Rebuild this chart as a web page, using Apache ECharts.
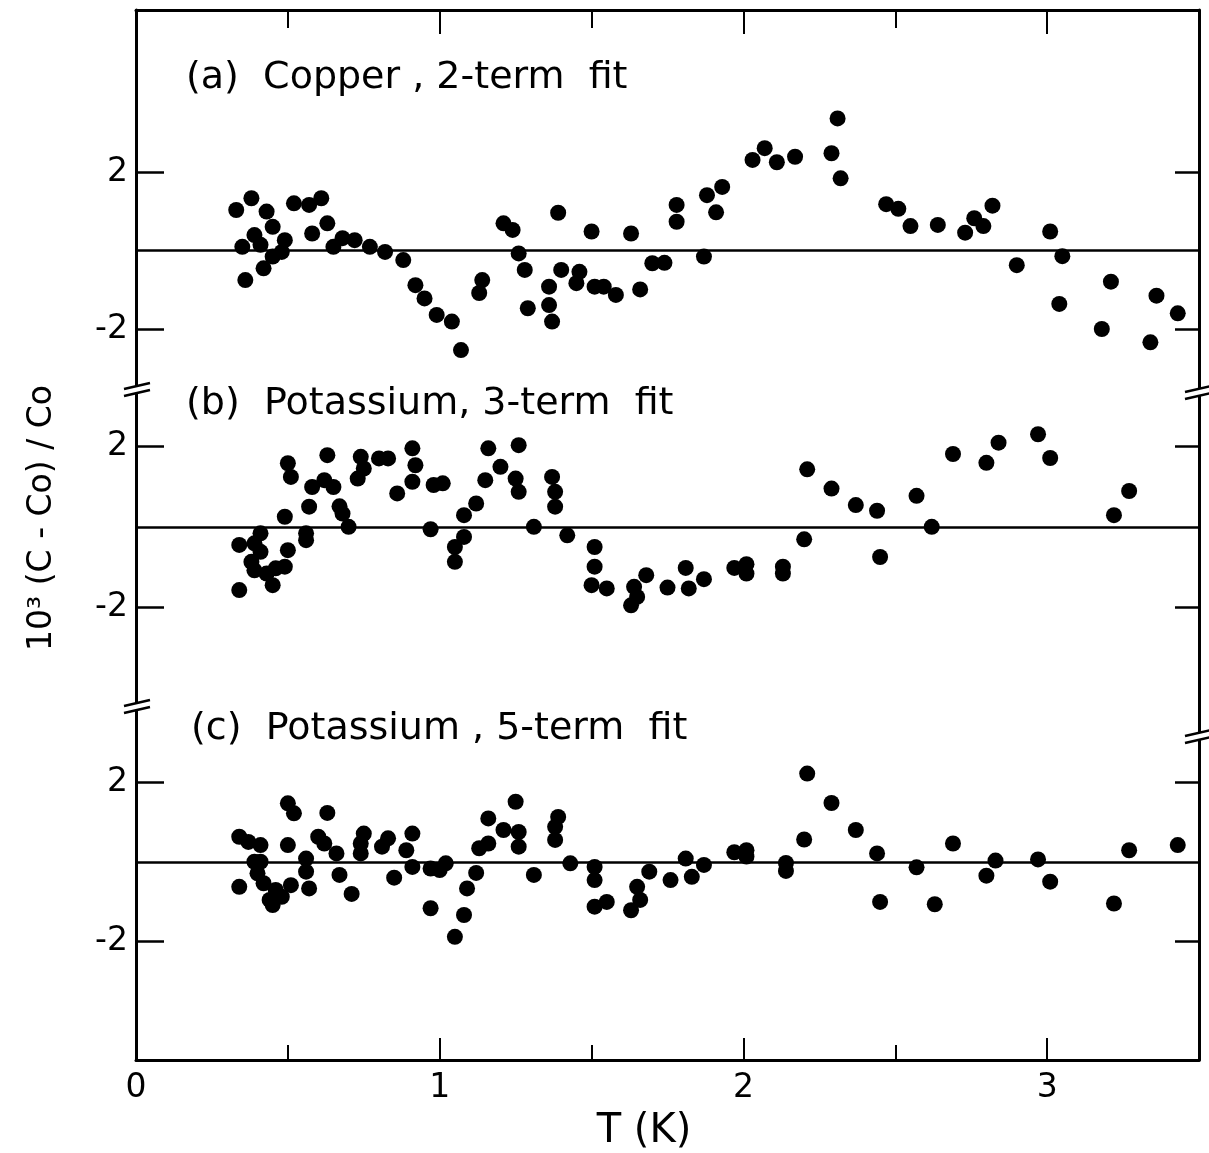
<!DOCTYPE html>
<html>
<head>
<meta charset="utf-8">
<script src="https://cdn.jsdelivr.net/npm/echarts@6/dist/echarts.min.js"></script>
<style>
html,body{margin:0;padding:0;background:#fff;}
#chart{width:1209px;height:1153px;}
</style>
</head>
<body>
<div id="chart"></div>
<script>
// ---- Data (T in K, 10^3 (C-Co)/Co) ----
const tA = [0.33,0.38,0.43,0.45,0.49,0.35,0.39,0.41,0.45,0.48,0.42,0.36,0.52,0.57,0.61,0.63,0.58,0.65,0.68,0.72,0.77,0.82,0.88,0.92,0.95,0.99,1.04,1.07,1.14,1.13,1.21,1.24,1.26,1.28,1.29,1.39,1.40,1.36,1.36,1.37,1.46,1.45,1.50,1.51,1.54,1.58,1.63,1.66,1.70,1.74,1.78,1.78,1.88,1.91,1.93,1.87,2.03,2.07,2.11,2.17,2.29,2.31,2.32,2.47,2.51,2.55,2.64,2.73,2.76,2.79,2.82,3.01,2.90,3.05,3.04,3.21,3.18,3.36,3.34,3.43];
const vA = [1.04,1.34,1.00,0.61,0.27,0.10,0.40,0.15,-0.15,-0.03,-0.45,-0.75,1.21,1.17,1.34,0.70,0.44,0.10,0.32,0.27,0.10,-0.03,-0.24,-0.88,-1.22,-1.64,-1.81,-2.54,-0.75,-1.08,0.70,0.53,-0.07,-0.49,-1.47,0.97,-0.49,-0.92,-1.39,-1.81,-0.54,-0.83,0.49,-0.92,-0.92,-1.13,0.44,-0.99,-0.32,-0.31,1.17,0.74,1.42,0.98,1.63,-0.15,2.32,2.62,2.26,2.40,2.49,3.38,1.85,1.19,1.07,0.63,0.66,0.46,0.83,0.63,1.15,0.49,-0.37,-0.14,-1.36,-0.79,-2.00,-1.15,-2.34,-1.60];

const tB = [0.34,0.34,0.39,0.41,0.41,0.38,0.39,0.43,0.45,0.46,0.49,0.50,0.49,0.50,0.51,0.56,0.56,0.57,0.58,0.62,0.63,0.65,0.67,0.68,0.70,0.73,0.74,0.75,0.80,0.83,0.86,0.91,0.92,0.91,0.98,1.01,0.97,1.08,1.08,1.05,1.05,1.12,1.15,1.16,1.20,1.26,1.25,1.26,1.31,1.37,1.38,1.38,1.42,1.51,1.51,1.50,1.55,1.63,1.64,1.65,1.68,1.75,1.81,1.82,1.87,1.97,2.01,2.01,2.13,2.13,2.20,2.21,2.29,2.37,2.44,2.45,2.57,2.62,2.69,2.80,2.84,2.97,3.01,3.22,3.27];
const vB = [-1.57,-0.45,-0.41,-0.16,-0.62,-0.87,-1.08,-1.16,-1.45,-1.03,-0.99,-0.58,0.25,1.58,1.24,-0.16,-0.33,0.50,0.99,1.16,1.78,0.99,0.51,0.33,0.00,1.20,1.74,1.45,1.70,1.70,0.83,1.95,1.53,1.12,1.04,1.08,-0.06,0.29,-0.25,-0.50,-0.87,0.58,1.16,1.95,1.49,2.03,1.20,0.87,0.00,1.24,0.87,0.50,-0.21,-0.50,-0.99,-1.45,-1.53,-1.95,-1.49,-1.74,-1.20,-1.51,-1.02,-1.53,-1.30,-1.02,-1.16,-0.93,-0.99,-1.16,-0.31,1.43,0.95,0.54,0.40,-0.75,0.77,0.00,1.81,1.59,2.09,2.30,1.71,0.29,0.89];

const tC = [0.34,0.37,0.41,0.39,0.41,0.40,0.34,0.42,0.46,0.44,0.45,0.48,0.51,0.50,0.52,0.50,0.56,0.56,0.57,0.60,0.62,0.63,0.66,0.67,0.71,0.74,0.75,0.74,0.81,0.83,0.85,0.89,0.91,0.91,0.97,1.00,1.02,0.97,1.05,1.08,1.09,1.12,1.13,1.16,1.16,1.21,1.25,1.26,1.26,1.31,1.39,1.38,1.38,1.43,1.51,1.51,1.51,1.55,1.63,1.65,1.66,1.69,1.76,1.81,1.83,1.87,1.97,2.01,2.01,2.14,2.14,2.20,2.21,2.29,2.37,2.44,2.45,2.57,2.63,2.69,2.80,2.83,2.97,3.01,3.22,3.27,3.43];
const vC = [0.63,0.50,0.42,0.00,0.00,-0.29,-0.63,-0.54,-0.71,-0.96,-1.09,-0.88,-0.59,1.47,1.22,0.42,0.08,-0.25,-0.67,0.63,0.46,1.23,0.21,-0.33,-0.81,0.21,0.71,0.46,0.38,0.59,-0.40,0.29,0.71,-0.13,-0.17,-0.21,-0.04,-1.17,-1.89,-1.34,-0.67,-0.28,0.34,1.09,0.46,0.80,1.51,0.75,0.38,-0.33,1.13,0.88,0.55,-0.04,-0.13,-0.46,-1.13,-1.01,-1.22,-0.63,-0.96,-0.25,-0.46,0.08,-0.38,-0.08,0.24,0.29,0.13,-0.03,-0.23,0.56,2.22,1.48,0.80,0.21,-1.01,-0.14,-1.07,0.46,-0.35,0.03,0.06,-0.50,-1.05,0.29,0.42];

const panelTitles = ['(a)  Copper , 2-term  fit', '(b)  Potassium, 3-term  fit', '(c)  Potassium , 5-term  fit'];
const xMajorTicks = [1, 2, 3];
const xMinorTicks = [0.5, 1.5, 2.5];
const xLabels = [0, 1, 2, 3];
const yTicks = [-2, 2];
const xName = 'T (K)';
const yName = '10³ (C - Co) / Co';

// ---- Layout ----
const FONT = 'DejaVu Sans';
const L = 136, R = 10;
const grids = [
  {left: L, right: R, top: 10, height: 382},
  {left: L, right: R, top: 392, height: 320},
  {left: L, right: R, top: 712, height: 348}
];
const yRanges = [[-3.61, 6.15], [-4.60, 3.35], [-4.99, 3.77]];
const titlePos = [[186, 59], [186, 385], [191, 710]];

const zip = (t, v) => t.map((x, i) => [x, v[i]]);
const seriesData = [zip(tA, vA), zip(tB, vB), zip(tC, vC)];

const black = '#000';
function xAx(grid, pos, ticks, len, showLine, labels) {
  return {
    type: 'value', gridIndex: grid, min: 0, max: 3.5, position: pos,
    axisLine: {show: showLine, onZero: false, lineStyle: {color: black, width: 3}},
    axisTick: {show: ticks.length > 0, inside: true, length: len, customValues: ticks, lineStyle: {color: black, width: 2}},
    axisLabel: labels ? {show: true, customValues: labels, color: black, fontSize: 33, fontFamily: FONT, margin: 12} : {show: false},
    splitLine: {show: false}
  };
}
const xAxes = [
  xAx(0, 'top', xMajorTicks, 24, true, null),
  xAx(0, 'top', xMinorTicks, 18, false, null),
  xAx(1, 'bottom', [], 0, false, null),
  xAx(2, 'bottom', xMajorTicks, 22, true, xLabels),
  xAx(2, 'bottom', xMinorTicks, 15, false, null)
];
const yAxes = [];
for (let g = 0; g < 3; g++) {
  yAxes.push({
    type: 'value', gridIndex: g, min: yRanges[g][0], max: yRanges[g][1], position: 'left',
    axisLine: {show: true, onZero: false, lineStyle: {color: black, width: 3}},
    axisTick: {show: true, inside: true, length: 28, customValues: yTicks, lineStyle: {color: black, width: 2.5}},
    axisLabel: {show: true, customValues: yTicks, color: black, fontSize: 33, fontFamily: FONT, margin: 8,
      formatter: v => (v < 0 ? '-' : '') + Math.abs(v)},
    splitLine: {show: false}
  });
  yAxes.push({
    type: 'value', gridIndex: g, min: yRanges[g][0], max: yRanges[g][1], position: 'right',
    axisLine: {show: true, onZero: false, lineStyle: {color: black, width: 3}},
    axisTick: {show: true, inside: true, length: 24, customValues: yTicks, lineStyle: {color: black, width: 2.5}},
    axisLabel: {show: false},
    splitLine: {show: false}
  });
}
const xIdx = [0, 2, 3];
const series = seriesData.map((d, g) => ({
  type: 'scatter', xAxisIndex: xIdx[g], yAxisIndex: g * 2, data: d,
  symbol: 'circle', symbolSize: 16, itemStyle: {color: black, opacity: 1},
  silent: true, animation: false,
  markLine: {silent: true, symbol: 'none', label: {show: false},
    lineStyle: {color: black, width: 2.5, type: 'solid'}, data: [{yAxis: 0}], animation: false}
}));

// break marks on the vertical axes
function brk(xc, yc) {
  const w = 13, s = 3, gap = 7;
  return [
    {type: 'polygon', z: 100, shape: {points: [[xc - w, yc + s], [xc + w, yc - s], [xc + w, yc - s + gap], [xc - w, yc + s + gap]]}, style: {fill: '#fff'}},
    {type: 'line', z: 101, shape: {x1: xc - w, y1: yc + s, x2: xc + w, y2: yc - s}, style: {stroke: black, lineWidth: 2.5}},
    {type: 'line', z: 101, shape: {x1: xc - w, y1: yc + s + gap, x2: xc + w, y2: yc - s + gap}, style: {stroke: black, lineWidth: 2.5}}
  ];
}
function txt(text, x, y, size, rot) {
  return {type: 'text', x: x, y: y, rotation: rot, z: 100,
    style: {text: text, font: size + 'px "' + FONT + '"', fill: black,
      textAlign: 'center', textVerticalAlign: 'middle', align: 'center', verticalAlign: 'middle'}};
}
const graphics = [].concat(
  brk(137, 386), brk(137, 703), brk(1198, 389), brk(1198, 733),
  [txt(yName, 42, 518, 33, Math.PI / 2), txt(xName, 644, 1132, 40, 0)]
);

const chart = echarts.init(document.getElementById('chart'), null, {renderer: 'canvas'});
chart.setOption({
  backgroundColor: '#fff',
  animation: false,
  title: panelTitles.map((t, i) => ({
    text: t, left: titlePos[i][0], top: titlePos[i][1], padding: 0,
    textStyle: {color: black, fontSize: 38, fontWeight: 'normal', fontFamily: FONT}
  })),
  grid: grids,
  xAxis: xAxes,
  yAxis: yAxes,
  series: series,
  graphic: graphics
});
</script>
</body>
</html>
